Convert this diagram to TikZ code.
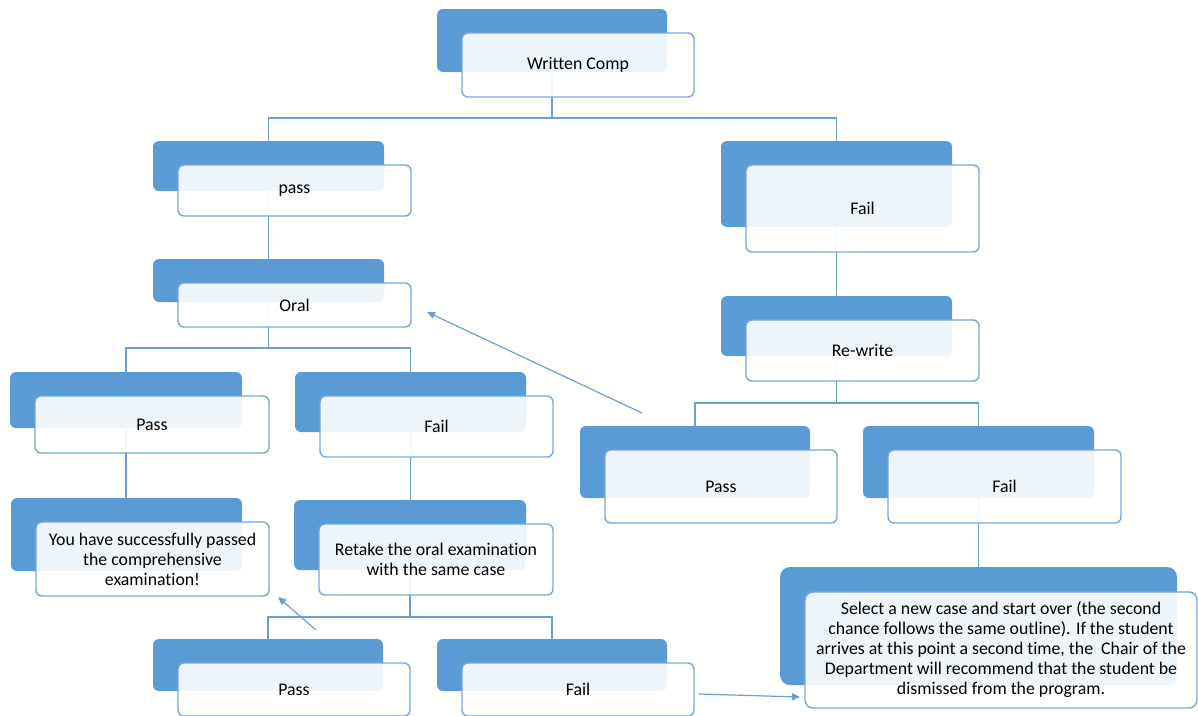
\documentclass[tikz,border=0pt]{standalone}
\usepackage{fontspec}
\setmainfont[Ligatures=NoCommon]{Carlito}
\usetikzlibrary{arrows.meta,calc}
\definecolor{backblue}{HTML}{5B9BD5}
\definecolor{edgeblue}{HTML}{74A8DD}
\definecolor{lineblue}{HTML}{6A9FD6}
\pgfdeclarelayer{bg}
\pgfsetlayers{bg,main}
\tikzset{
  backbox/.style={rectangle, rounded corners=6pt, fill=backblue, draw=none, inner sep=0pt, outer sep=0pt},
  frontbox/.style={rectangle, rounded corners=6pt, fill=white, fill opacity=0.9, text opacity=1,
    draw=edgeblue, line width=1.4pt, inner sep=0pt, outer sep=0pt, align=center,
    text=black, font=\fontsize{17.8}{20}\selectfont},
  conn/.style={draw=lineblue, line width=1.4pt},
  arr/.style={draw=lineblue, line width=1.2pt, -{Triangle[length=8pt,width=7pt]}},
}
% name, back x1, y1, x2, y2, text
\newcommand{\dualbox}[6]{%
  \node[backbox, minimum width={#4-#2}, minimum height={#5-#3}] (#1b) at ({(#2+#4)/2},{(#3+#5)/2}) {};
  \node[frontbox, minimum width={#4-#2+2}, minimum height={#5-#3+1}] (#1) at ({(#2+#4)/2+26},{(#3+#5)/2+24.5}) {#6};
}
\begin{document}
\begin{tikzpicture}[x=1pt,y=-1pt]
\useasboundingbox (0,0) rectangle (1198,715);
\clip (0,0) rectangle (1198,715);

\dualbox{wc}{437}{9}{667}{72}{Written Comp}
\dualbox{pass}{153}{141}{384}{191}{pass}
\dualbox{failr}{721}{141}{952}{227}{Fail}
\dualbox{oral}{153}{259}{384}{302}{Oral}
\dualbox{rw}{721}{296}{952}{356}{Re-write}
\dualbox{pthree}{10}{372}{242}{428}{Pass}
\dualbox{fthree}{295}{372}{526}{432}{Fail}
\dualbox{pfour}{580}{426}{810}{498}{Pass}
\dualbox{ffour}{863}{426}{1094}{498}{Fail}
\dualbox{suc}{11}{498}{242}{571}{You have successfully passed\\the comprehensive\\examination!}
\dualbox{rt}{294}{500}{526}{570}{Retake the oral examination\\with the same case}
\dualbox{pb}{153}{639}{383}{691}{Pass}
\dualbox{fb}{437}{639}{667}{691}{Fail}

\node[backbox, rounded corners=10pt, minimum width=397, minimum height=118] (bigb) at (978.5,626) {};
\node[frontbox, rounded corners=8pt, minimum width=392, minimum height=116] (big) at (1001,650)
  {Select a new case and start over (the second\\chance follows the same outline). If the student\\arrives at this point a second time, the\ \ Chair of the\\Department will recommend that the student be\\dismissed from the program.};

\begin{pgfonlayer}{bg}
  \draw[conn] (wcb.south) -- (wcb.south |- 0,118) -| (passb.north);
  \draw[conn] (wcb.south |- 0,118) -| (failrb.north);
  \draw[conn] (passb.south) -- (passb.south |- oralb.north);
  \draw[conn] (failrb.south) -- (failrb.south |- rwb.north);
  \draw[conn] (oralb.south) -- (oralb.south |- 0,348) -| (pthreeb.north);
  \draw[conn] (oralb.south |- 0,348) -| (fthreeb.north);
  \draw[conn] (rwb.south) -- (rwb.south |- 0,403) -| (pfourb.north);
  \draw[conn] (rwb.south |- 0,403) -| (ffourb.north);
  \draw[conn] (pthreeb.south) -- (pthreeb.south |- sucb.north);
  \draw[conn] (fthreeb.south) -- (fthreeb.south |- rtb.north);
  \draw[conn] (rtb.south) -- (rtb.south |- 0,617) -| (pbb.north);
  \draw[conn] (rtb.south |- 0,617) -| (fbb.north);
  \draw[conn] (ffourb.south) -- (ffourb.south |- bigb.north);
\end{pgfonlayer}

\coordinate (aonestart) at (642,413);
\coordinate (aoneend) at (427,312);
\coordinate (atwostart) at (316,630);
\coordinate (atwoend) at (278,597);
\coordinate (athreestart) at (699,694);
\coordinate (athreeend) at (800,697);
\draw[arr] (aonestart) -- (aoneend);
\draw[arr] (atwostart) -- (atwoend);
\draw[arr] (athreestart) -- (athreeend);
\end{tikzpicture}
\end{document}
